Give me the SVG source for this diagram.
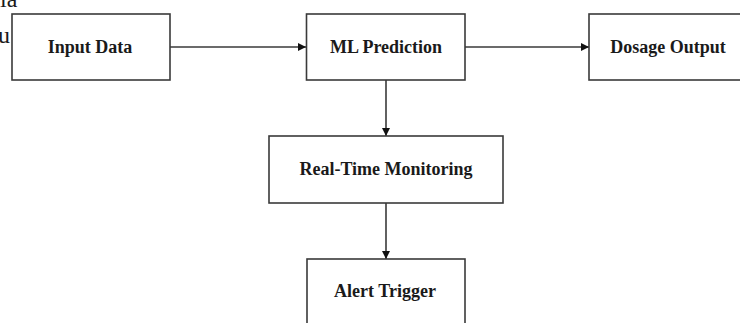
<svg xmlns="http://www.w3.org/2000/svg" width="740" height="323" viewBox="0 0 740 323">
<defs>
<style>
.box{fill:#fff;stroke:#3a3a3a;stroke-width:1.6}
.lbl{font-family:"Liberation Serif","Times New Roman",serif;font-weight:bold;font-size:18px;fill:#1a1a1a;text-anchor:middle}
.frag{font-family:"Liberation Serif","Times New Roman",serif;font-size:24px;fill:#1a1a1a}
.edge{stroke:#3a3a3a;stroke-width:1.6;fill:none;marker-end:url(#ah)}
</style>
<marker id="ah" viewBox="0 0 10 10" refX="10" refY="5" markerWidth="9" markerHeight="8" orient="auto" markerUnits="userSpaceOnUse">
<path d="M0,0 L10,5 L0,10 z" fill="#111"/>
</marker>
</defs>
<rect width="740" height="323" fill="#fff"/>
<text class="frag" x="0" y="7">ia</text>
<text class="frag" x="-2" y="43">u</text>
<g id="connectors">
<line class="edge" x1="170" y1="47" x2="306" y2="47"/>
<line class="edge" x1="465" y1="47" x2="589" y2="47"/>
<line class="edge" x1="386" y1="80" x2="386" y2="136"/>
<line class="edge" x1="386" y1="203" x2="386" y2="259"/>
</g>
<g id="input-data">
<rect class="box" x="12" y="14" width="158" height="66"/>
<text class="lbl" x="90" y="53">Input Data</text>
</g>
<g id="ml-prediction">
<rect class="box" x="306.5" y="14" width="158.5" height="66"/>
<text class="lbl" x="386" y="53">ML Prediction</text>
</g>
<g id="dosage-output">
<rect class="box" x="589" y="14" width="158" height="66"/>
<text class="lbl" x="668" y="53">Dosage Output</text>
</g>
<g id="real-time-monitoring">
<rect class="box" x="269" y="136" width="234" height="67"/>
<text class="lbl" x="386" y="175">Real-Time Monitoring</text>
</g>
<g id="alert-trigger">
<rect class="box" x="307" y="259" width="158" height="80"/>
<text class="lbl" x="385" y="297">Alert Trigger</text>
</g>
</svg>
